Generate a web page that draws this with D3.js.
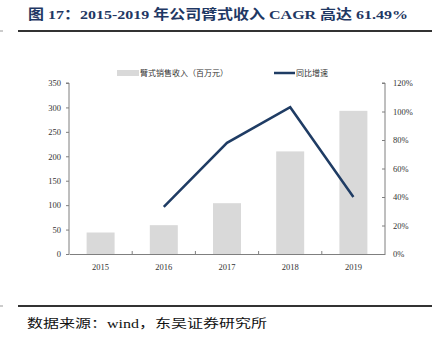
<!DOCTYPE html>
<html><head><meta charset="utf-8">
<script src="https://cdn.jsdelivr.net/npm/d3@7"></script>
<style>body{margin:0;background:#fff;}svg{display:block;}</style>
</head><body>
<script>
const years = ["2015","2016","2017","2018","2019"];
const revenue = [44, 59, 104, 210, 293];
const growth = [null, 33, 78, 103, 40];
const leftTicks = [0,50,100,150,200,250,300,350];
const rightTicks = [0,20,40,60,80,100,120];
const titleText = "图 17：2015-2019 年公司臂式收入 CAGR 高达 61.49%";
const sourceText = "数据来源：wind，东吴证券研究所";
const legendBar = "臂式销售收入（百万元）";
const legendLine = "同比增速";

const W=432,H=342;
const svg=d3.select("body").append("svg").attr("width",W).attr("height",H);
const serif="'Liberation Serif','Times New Roman',serif";
const cjk="'Liberation Serif','Noto Sans CJK SC',serif";

svg.append("text").attr("x",28).attr("y",19).attr("fill","#1f3864")
  .attr("font-family",cjk).attr("font-weight","bold").attr("font-size",13.5)
  .attr("textLength",380).attr("lengthAdjust","spacingAndGlyphs").text(titleText);
svg.append("line").attr("x1",18).attr("x2",432).attr("y1",31).attr("y2",31).attr("stroke","#333").attr("stroke-width",2);
svg.append("line").attr("x1",18).attr("x2",432).attr("y1",306).attr("y2",306).attr("stroke","#333").attr("stroke-width",2);
svg.append("line").attr("x1",0).attr("x2",3).attr("y1",31).attr("y2",31).attr("stroke","#999");
svg.append("line").attr("x1",0).attr("x2",3).attr("y1",306).attr("y2",306).attr("stroke","#999");
svg.append("text").attr("x",27).attr("y",328).attr("fill","#111")
  .attr("font-family",cjk).attr("font-size",12)
  .attr("textLength",240).attr("lengthAdjust","spacingAndGlyphs").text(sourceText);

const x0=69,x1=385,yTop=83,yBot=254;
const x=d3.scaleBand().domain(years).range([x0,x1]);
const yL=d3.scaleLinear().domain([0,350]).range([yBot,yTop]);
const yR=d3.scaleLinear().domain([0,120]).range([yBot,yTop]);

const bw=28;
svg.selectAll("rect.bar").data(revenue).enter().append("rect")
  .attr("x",(d,i)=>x(years[i])+x.bandwidth()/2-bw/2).attr("width",bw)
  .attr("y",d=>yL(d)).attr("height",d=>yBot-yL(d)).attr("fill","#d9d9d9");

const axColor="#7f7f7f";
const gL=svg.append("g").attr("transform",`translate(${x0},0)`)
  .call(d3.axisLeft(yL).tickValues(leftTicks).tickSize(3).tickPadding(5));
const gR=svg.append("g").attr("transform",`translate(${x1},0)`)
  .call(d3.axisRight(yR).tickValues(rightTicks).tickSize(-3).tickPadding(8).tickFormat(d=>d+"%"));
const gB=svg.append("g").attr("transform",`translate(0,${yBot})`)
  .call(d3.axisBottom(x).tickSize(0).tickPadding(10));
[gL,gR,gB].forEach(g=>{
  g.select(".domain").attr("stroke",axColor);
  g.selectAll(".tick line").attr("stroke",axColor);
  g.selectAll("text").attr("font-family",serif).attr("font-size",8.5).attr("fill","#333");
});
gL.select(".domain").attr("d",`M-3,${yTop}H0V${yBot}`);
gR.select(".domain").attr("d",`M-3,${yTop}H0V${yBot}`);
svg.append("g").selectAll("line").data(years.slice(1)).enter().append("line")
  .attr("x1",d=>x(d)).attr("x2",d=>x(d)).attr("y1",yBot).attr("y2",yBot-3).attr("stroke",axColor);

const line=d3.line().defined(d=>d!=null).x((d,i)=>x(years[i])+x.bandwidth()/2).y(d=>yR(d));
svg.append("path").datum(growth).attr("d",line).attr("fill","none")
  .attr("stroke","#1f3c64").attr("stroke-width",2.5);

svg.append("rect").attr("x",117).attr("y",70).attr("width",22).attr("height",6).attr("fill","#d9d9d9");
svg.append("text").attr("x",140).attr("y",76).attr("font-family","'Noto Sans CJK SC',sans-serif")
  .attr("font-size",8).attr("fill","#333").text(legendBar);
svg.append("line").attr("x1",274).attr("x2",295).attr("y1",73).attr("y2",73).attr("stroke","#1f3c64").attr("stroke-width",2.5);
svg.append("text").attr("x",296).attr("y",76).attr("font-family","'Noto Sans CJK SC',sans-serif")
  .attr("font-size",8).attr("fill","#333").text(legendLine);
</script>
</body></html>
